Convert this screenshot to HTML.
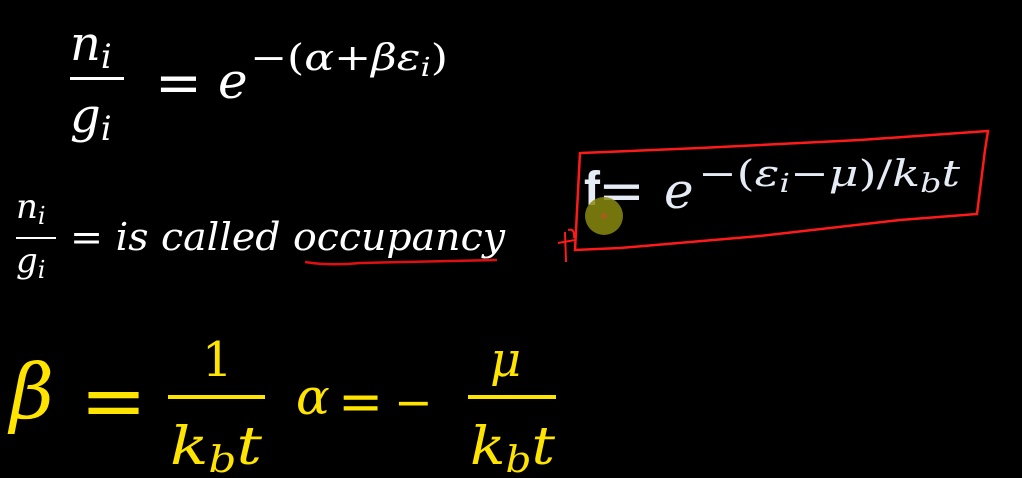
<!DOCTYPE html>
<html><head><style>
html,body{margin:0;padding:0;background:#000;width:1022px;height:478px;overflow:hidden}
svg{display:block}
text{font-family:"DejaVu Serif","Liberation Serif",serif}
.i{font-style:italic}
</style></head><body>
<svg width="1022" height="478" viewBox="0 0 1022 478">
<rect width="1022" height="478" fill="#000"/>
<g fill="#fff">
<text class="i" x="70" y="60" font-size="48">n<tspan font-size="34" dy="8">i</tspan></text>
<rect x="70" y="77" width="54" height="3"/>
<text class="i" x="70" y="132" font-size="48">g<tspan font-size="34" dy="8">i</tspan></text>
<text x="155" y="102" font-size="56">=</text>
<text class="i" x="218" y="98" font-size="50">e</text>
<text x="250" y="70" font-size="36" textLength="198" lengthAdjust="spacingAndGlyphs">−(<tspan class="i">α</tspan>+<tspan class="i">βε</tspan><tspan class="i" font-size="26" dy="6">i</tspan><tspan dy="-6">)</tspan></text>
<text class="i" x="16" y="218" font-size="34">n<tspan font-size="24" dy="6">i</tspan></text>
<rect x="16" y="237" width="40" height="2"/>
<text class="i" x="16" y="272" font-size="34">g<tspan font-size="24" dy="6">i</tspan></text>
<text x="70" y="250" font-size="38" textLength="435" lengthAdjust="spacingAndGlyphs"><tspan>=</tspan><tspan class="i"> is called occupancy</tspan></text>
</g>
<path d="M305 262 Q330 266 360 263 L497 260" stroke="#e01010" stroke-width="2.5" fill="none"/>
<g fill="#ffe400">
<text class="i" x="10" y="418" font-size="76">β</text>
<text x="80" y="428" font-size="80">=</text>
<text x="202" y="376" font-size="48">1</text>
<rect x="168" y="395" width="97" height="4"/>
<text class="i" x="170" y="464" font-size="52" textLength="92" lengthAdjust="spacingAndGlyphs">k<tspan font-size="36" dy="8">b</tspan><tspan dy="-8">t</tspan></text>
<text class="i" x="296" y="414" font-size="50">α</text>
<text x="338" y="420" font-size="54">=</text>
<text x="394" y="418" font-size="46">−</text>
<text class="i" x="490" y="376" font-size="48">μ</text>
<rect x="468" y="395" width="88" height="4"/>
<text class="i" x="470" y="464" font-size="52" textLength="85" lengthAdjust="spacingAndGlyphs">k<tspan font-size="36" dy="8">b</tspan><tspan dy="-8">t</tspan></text>
</g>
<g fill="#e6ecf6">
<text x="584" y="205" font-size="48" font-weight="bold" style="font-family:'Liberation Sans',sans-serif">f</text>
<text x="598" y="210" font-size="56">=</text>
<text class="i" x="664" y="208" font-size="50">e</text>
<text x="698" y="186" font-size="36" textLength="262" lengthAdjust="spacingAndGlyphs">−(<tspan class="i">ε</tspan><tspan class="i" font-size="26" dy="6">i</tspan><tspan dy="-6">−</tspan><tspan class="i">μ</tspan>)/<tspan class="i">k</tspan><tspan class="i" font-size="26" dy="6">b</tspan><tspan class="i" dy="-6">t</tspan></text>
</g>
<path d="M581 153 L700 148 L860 140 L988 131 L985 150 L977 214 L900 220 L760 236 L620 248 L575 250 L580 152" stroke="#ff1a1a" stroke-width="2.5" fill="none"/>
<path d="M558 243 L575 240 M565 232 L566 262 M568 230 Q575 228 574 238" stroke="#ff1a1a" stroke-width="2" fill="none"/>
<circle cx="604" cy="216" r="19" fill="#8a8a10" opacity="0.85"/>
<circle cx="604" cy="216" r="2" fill="none" stroke="#e04030" stroke-width="1"/>
</svg>
</body></html>
